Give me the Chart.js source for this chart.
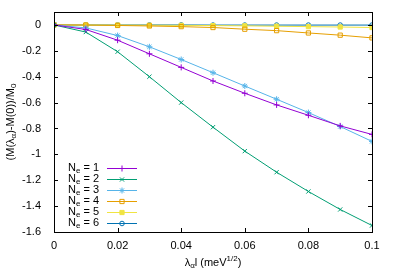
<!DOCTYPE html>
<html>
<head>
<meta charset="utf-8">
<script src="https://cdn.jsdelivr.net/npm/chart.js@4/dist/chart.umd.min.js"></script>
<style>
  html, body { margin: 0; padding: 0; background: #fff; }
  #wrap { width: 399px; height: 279px; }
</style>
</head>
<body>
<div id="wrap"><canvas id="c" width="399" height="279"></canvas></div>
<script>
const xs = [0, 0.01, 0.02, 0.03, 0.04, 0.05, 0.06, 0.07, 0.08, 0.09, 0.1];

const ne1 = [0, -0.035, -0.118, -0.223, -0.328, -0.433, -0.528, -0.618, -0.698, -0.78, -0.846];
const ne2 = [0, -0.055, -0.207, -0.40, -0.60, -0.79, -0.975, -1.138, -1.287, -1.426, -1.55];
const ne3 = [0, -0.023, -0.082, -0.169, -0.267, -0.369, -0.472, -0.574, -0.677, -0.785, -0.9];
const ne4 = [0, -0.001, -0.004, -0.008, -0.013, -0.02, -0.033, -0.044, -0.062, -0.079, -0.10];
const ne5 = [0, -0.0005, -0.001, -0.002, -0.003, -0.005, -0.007, -0.01, -0.013, -0.016, -0.02];
const ne6 = [0, 0, 0, 0, 0, -0.001, -0.001, -0.001, -0.001, -0.001, -0.001];

const labels = ["1", "2", "3", "4", "5", "6"];
const colors = ["#9400d3", "#009e73", "#56b4e9", "#e69f00", "#f0e442", "#0072b2"];
const styles = ["cross", "crossRot", "star", "rect", "rect", "circle"];
const filled = [false, false, true, false, true, false];
const radii = [3, 3, 3, 3, 3, 2.3];

const xTicks = [0, 0.02, 0.04, 0.06, 0.08, 0.1];
const yTicks = [0, -0.2, -0.4, -0.6, -0.8, -1, -1.2, -1.4, -1.6];

const FONT = "11px 'Liberation Sans', Arial, sans-serif";
const SUBFONT = "8px 'Liberation Sans', Arial, sans-serif";

const series = [ne1, ne2, ne3, ne4, ne5, ne6];
const datasets = series.map((s, i) => ({
    label: "Ne = " + labels[i],
    data: s.map((v, j) => ({ x: xs[j], y: v })),
    borderColor: colors[i],
    backgroundColor: filled[i] ? colors[i] : "rgba(0,0,0,0)",
    borderWidth: 1,
    pointStyle: styles[i],
    pointRadius: radii[i],
    pointBorderColor: colors[i],
    pointBackgroundColor: filled[i] ? colors[i] : "rgba(0,0,0,0)",
    pointBorderWidth: 1,
    tension: 0
}));

// text pieces: [text, mode] mode 0 normal, 1 sub, 2 sup
function richWidth(ctx, parts) {
    let w = 0;
    parts.forEach(p => {
        ctx.font = p[1] ? SUBFONT : FONT;
        w += ctx.measureText(p[0]).width;
    });
    return w;
}
function drawRich(ctx, parts, x, y) {
    parts.forEach(p => {
        ctx.font = p[1] ? SUBFONT : FONT;
        let dy = p[1] === 1 ? 3 : (p[1] === 2 ? -4 : 0);
        ctx.fillText(p[0], x, y + dy);
        x += ctx.measureText(p[0]).width;
    });
}

const framePlugin = {
    id: "frame",
    afterDraw(chart) {
        const ctx = chart.ctx;
        const a = chart.chartArea;
        const xs_ = chart.scales.x, ys_ = chart.scales.y;
        ctx.save();
        ctx.strokeStyle = "#000";
        ctx.lineWidth = 1;
        ctx.strokeRect(a.left + 0.5, a.top + 0.5, a.right - a.left, a.bottom - a.top);
        ctx.beginPath();
        xTicks.forEach(t => {
            const px = Math.round(xs_.getPixelForValue(t)) + 0.5;
            ctx.moveTo(px, a.bottom); ctx.lineTo(px, a.bottom - 4);
            ctx.moveTo(px, a.top); ctx.lineTo(px, a.top + 4);
        });
        yTicks.forEach(t => {
            const py = Math.round(ys_.getPixelForValue(t)) + 0.5;
            ctx.moveTo(a.left, py); ctx.lineTo(a.left + 4, py);
            ctx.moveTo(a.right, py); ctx.lineTo(a.right - 4, py);
        });
        ctx.stroke();

        // legend
        ctx.textBaseline = "middle";
        datasets.forEach((d, i) => {
            const y = 168 + i * 11;
            const parts = [["N", 0], ["e", 1], [" = " + labels[i], 0]];
            const w = richWidth(ctx, parts);
            ctx.fillStyle = "#000";
            drawRich(ctx, parts, 99 - w, y);
            ctx.strokeStyle = colors[i];
            ctx.beginPath();
            ctx.moveTo(107, y + 0.5); ctx.lineTo(137, y + 0.5);
            ctx.stroke();
            ctx.fillStyle = filled[i] ? colors[i] : "rgba(0,0,0,0)";
            Chart.helpers.drawPoint(ctx, { pointStyle: styles[i], radius: radii[i], rotation: 0, borderWidth: 1 }, 122, y + 0.5);
        });

        // x title
        ctx.fillStyle = "#000";
        const xt = [["λ", 0], ["α", 1], ["l (meV", 0], ["1/2", 2], [")", 0]];
        const xw = richWidth(ctx, xt);
        drawRich(ctx, xt, (a.left + a.right) / 2 - xw / 2, 263);

        // y title
        const yt = [["(M(λ", 0], ["α", 1], [")-M(0))/M", 0], ["0", 1]];
        const yw = richWidth(ctx, yt);
        ctx.translate(11, (a.top + a.bottom) / 2);
        ctx.rotate(-Math.PI / 2);
        drawRich(ctx, yt, -yw / 2, 0);
        ctx.restore();
    }
};

new Chart(document.getElementById("c"), {
    type: "line",
    data: { datasets: datasets },
    options: {
        responsive: false,
        animation: false,
        layout: { padding: { left: 0, right: 27, top: 12, bottom: 0 } },
        plugins: { legend: { display: false }, tooltip: { enabled: false } },
        scales: {
            x: {
                type: "linear",
                min: 0, max: 0.1,
                grid: { display: false, drawTicks: false },
                border: { display: false },
                afterBuildTicks: s => { s.ticks = xTicks.map(v => ({ value: v })); },
                afterFit: s => { s.height = 47; s.paddingLeft = 0; s.paddingRight = 0; },
                ticks: {
                    color: "#000",
                    font: { family: "'Liberation Sans', Arial, sans-serif", size: 11 },
                    padding: 7,
                    maxRotation: 0,
                    callback: v => String(Math.round(v * 100) / 100)
                }
            },
            y: {
                type: "linear",
                min: -1.6, max: 0.1,
                grid: { display: false, drawTicks: false },
                border: { display: false },
                afterBuildTicks: s => { s.ticks = yTicks.map(v => ({ value: v })); },
                afterFit: s => { s.width = 54; s.paddingTop = 0; s.paddingBottom = 0; },
                ticks: {
                    color: "#000",
                    font: { family: "'Liberation Sans', Arial, sans-serif", size: 11 },
                    padding: 13,
                    callback: v => String(Math.round(v * 10) / 10)
                }
            }
        }
    },
    plugins: [framePlugin]
});
</script>
</body>
</html>
